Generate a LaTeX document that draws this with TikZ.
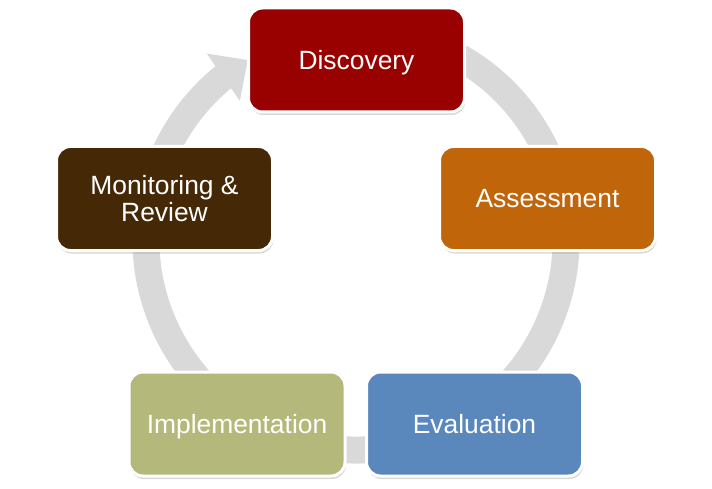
\documentclass[tikz,border=0pt]{standalone}
\usepackage{fontspec}
\setmainfont{Liberation Sans}
\usetikzlibrary{positioning,shadows,arrows.meta,bending}
\definecolor{discred}{HTML}{990000}
\definecolor{assessorange}{HTML}{C0650A}
\definecolor{evalblue}{HTML}{5A88BD}
\definecolor{implolive}{HTML}{B4B97B}
\definecolor{monitbrown}{HTML}{452907}
\definecolor{ringgray}{HTML}{D9D9D9}

\begin{document}
\begin{tikzpicture}[x=1pt, y=1pt, on grid,
  main/.style={draw=white, line width=3pt, rounded corners=14pt, minimum width=216pt, minimum height=104pt,
    text=white, font=\fontsize{26.4}{27}\selectfont, align=center,
    drop shadow={opacity=0.3, shadow xshift=1pt, shadow yshift=-3pt}},
  oneline/.style={text height=23.9pt, text depth=5.6pt},
  ring/.style={line width=27pt, draw=ringgray, -{Triangle[width=56pt, length=30pt]}}]
		\useasboundingbox (0,0) rectangle (712,-489);
		\coordinate (hub) at (356,-240);
		\coordinate (ringstart) at ([shift={(70:210)}]hub);
		\draw[ring] (ringstart) arc[start angle=70, end angle=-239, radius=210];

		\node[main, oneline, fill=discred] (disc) at (356.5,-60) {Discovery};
		\node[main, oneline, fill=assessorange] (assess) [below right=138.5pt and 191pt of disc] {Assessment};
		\node[main, fill=monitbrown] (monit) [below left=138.5pt and 192pt of disc] {Monitoring \&\\Review};
		\node[main, oneline, fill=evalblue] (eval) [below left=225.5pt and 73pt of assess] {Evaluation};
		\node[main, oneline, fill=implolive] (impl) [below right=225.5pt and 72.5pt of monit] {Implementation};
	\end{tikzpicture}
\end{document}
